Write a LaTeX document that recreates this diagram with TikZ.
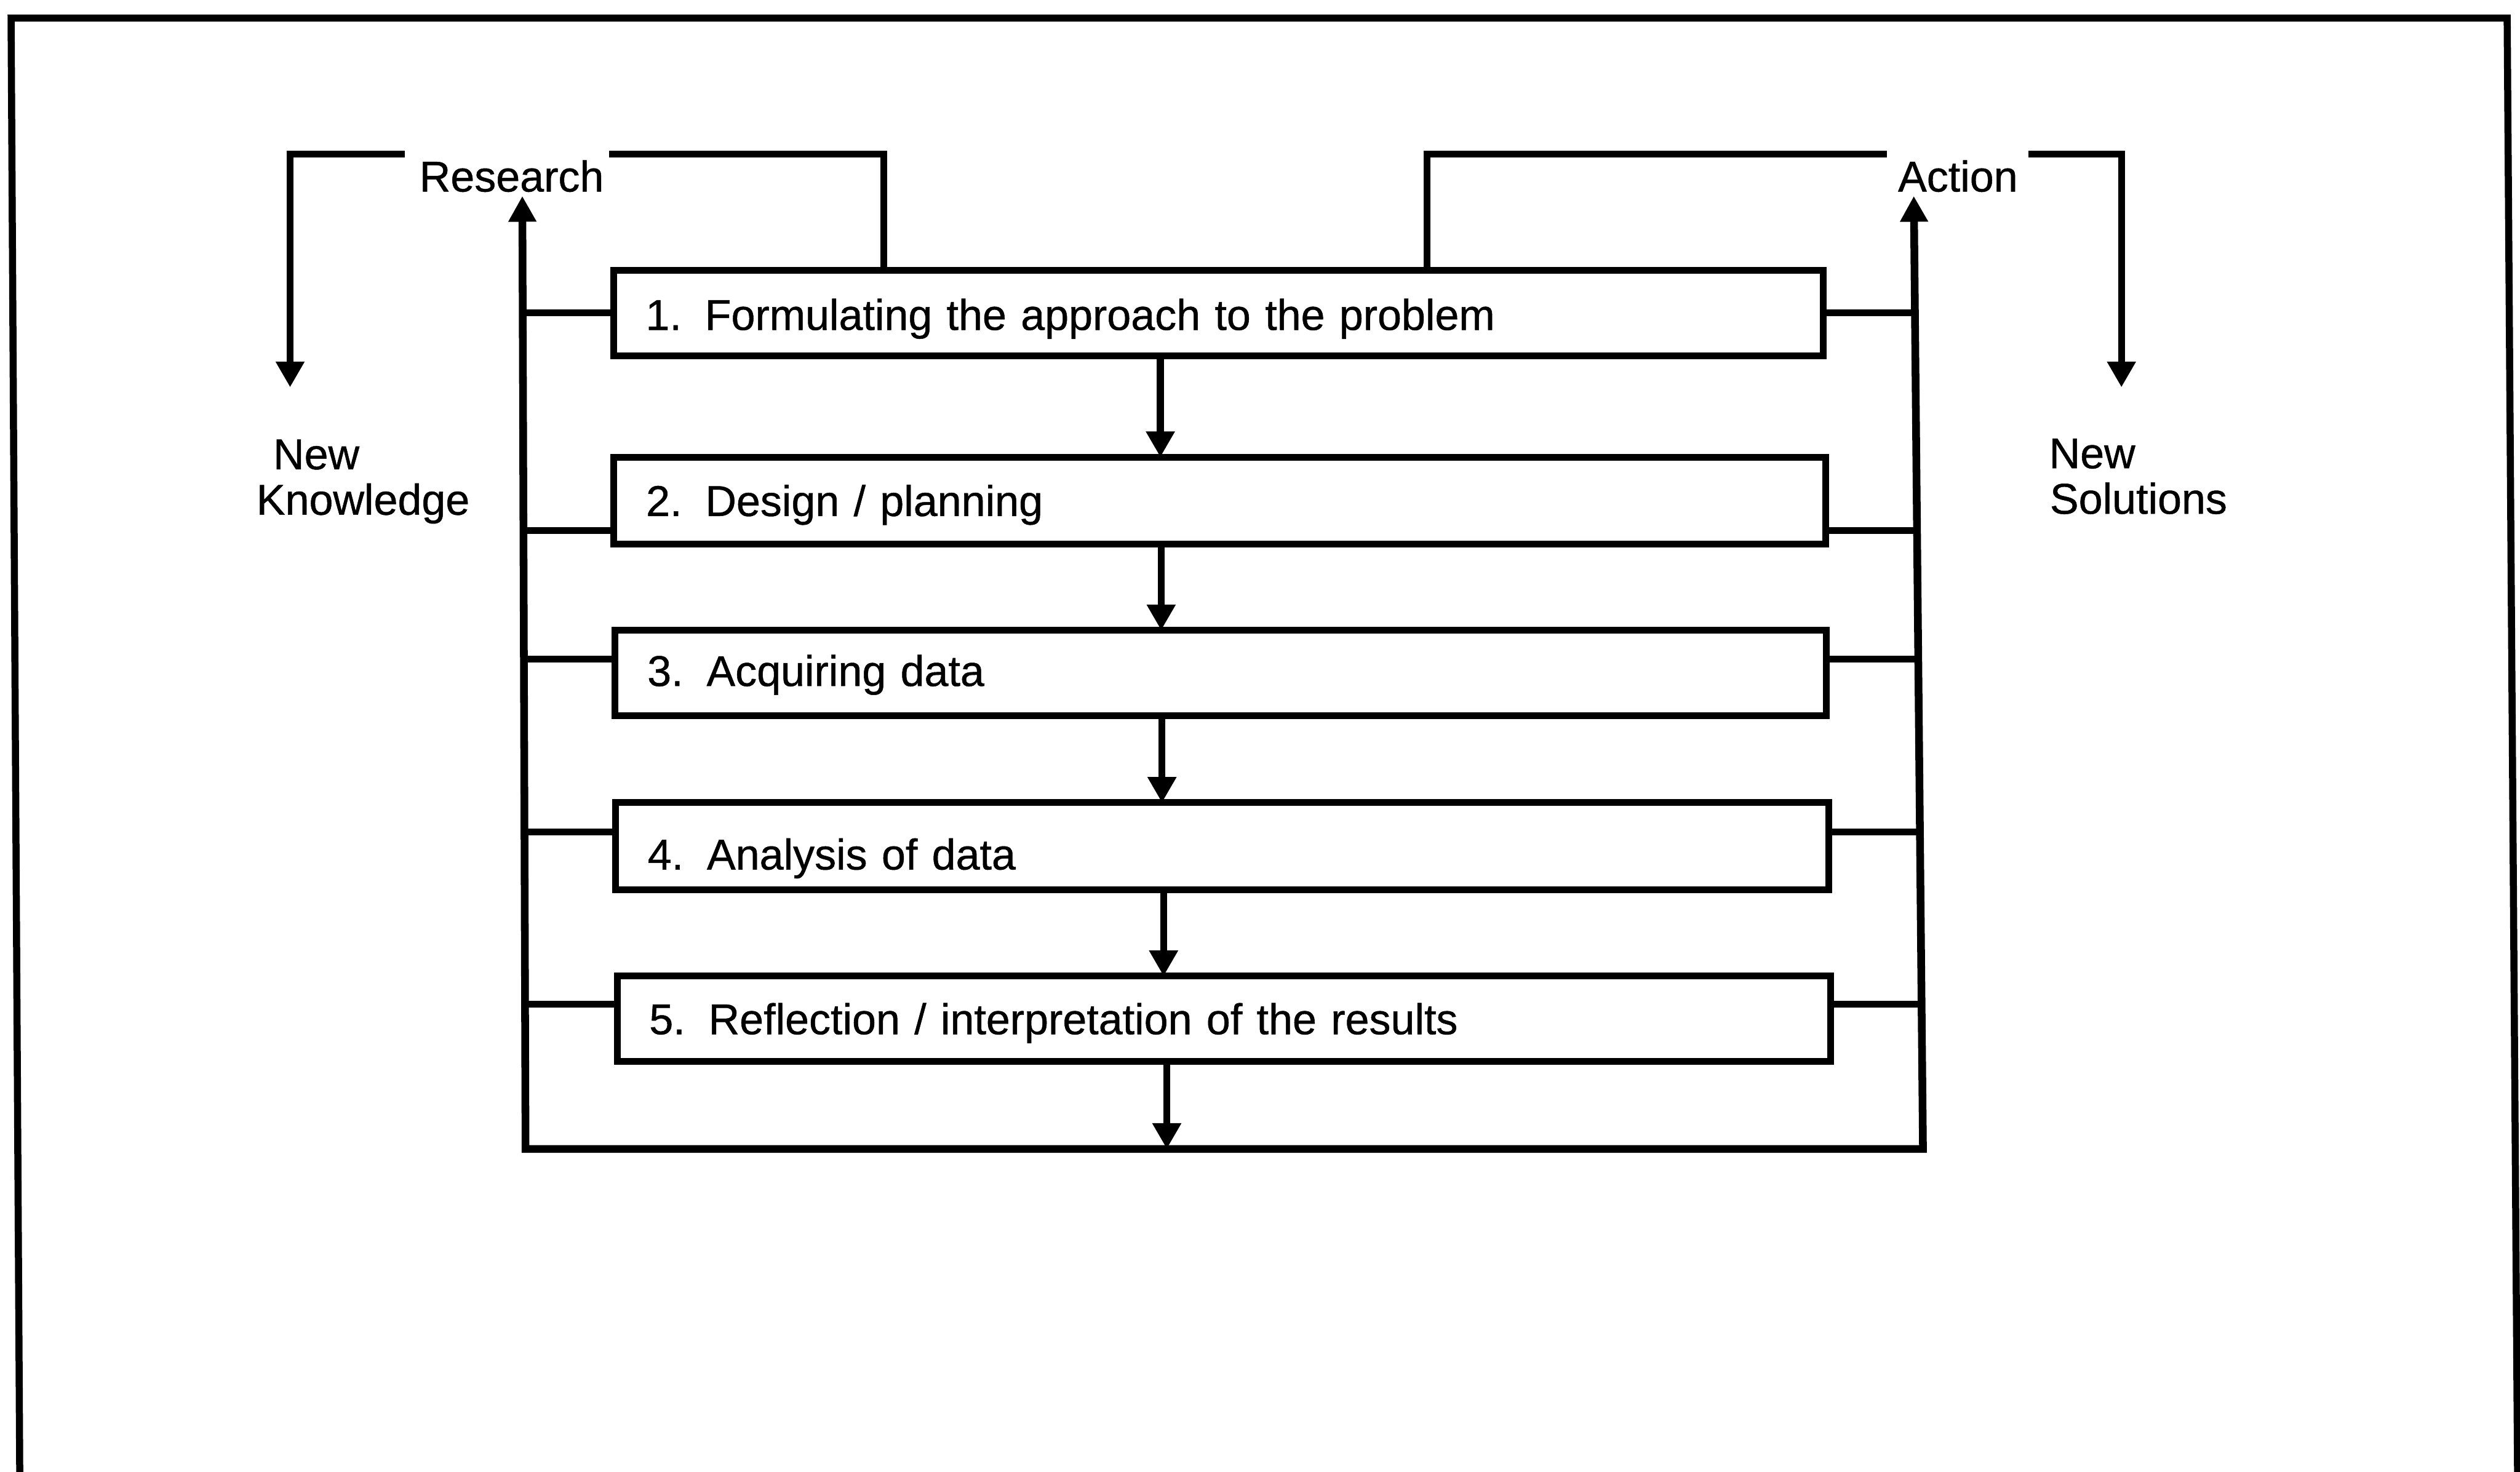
\documentclass[tikz,border=0pt]{standalone}
\usepackage{fontspec}
\setmainfont{Liberation Sans}
\newfontfamily\scanfont{Liberation Sans}[FakeBold=0.7]
\usetikzlibrary{arrows.meta}
\begin{document}
\begin{tikzpicture}[x=1pt,y=-1pt,
  ln/.style={line width=4.2pt},
  rail/.style={line width=4.8pt},
  arr/.style={line width=4.4pt,-{Triangle[length=16pt,width=17pt]}},
  txt/.style={inner sep=0pt,outer sep=0pt,font=\scanfont\fontsize{26.8}{28.5}\selectfont},
  stepbox/.style={draw,line width=4.2pt,inner sep=0pt,outer sep=0pt,align=left,
    text height=19.2pt,text depth=0pt,font=\scanfont\fontsize{26.8}{28.5}\selectfont}]
\useasboundingbox (0,0) rectangle (1568,916);
% frame (open at the bottom)
\draw[line width=4.4pt] (12.3,920) -- (6.9,11.2) -- (1560,11.2) -- (1566.5,920);

% step boxes
\node[stepbox,text width=752.7pt,minimum height=53.2pt,text height=21pt] (b1) at (758.1,194.8)
  {\hspace*{20pt}1.\hspace{14.5pt}Formulating the approach to the problem};
\node[stepbox,text width=754pt,minimum height=54pt] (b2) at (759,311.5)
  {\hspace*{20pt}2.\hspace{14.5pt}Design / planning};
\node[stepbox,text width=753.6pt,minimum height=53.3pt,text height=16pt] (b3) at (759.6,418.9)
  {\hspace*{20pt}3.\hspace{14.5pt}Acquiring data};
\node[stepbox,text width=755pt,minimum height=54.1pt,text height=29pt] (b4) at (760.5,526.6)
  {\hspace*{20pt}4.\hspace{14.5pt}Analysis of data};
\node[stepbox,text width=755pt,minimum height=53pt] (b5) at (761.5,634)
  {\hspace*{20pt}5.\hspace{14.5pt}Reflection / interpretation of the results};

% labels
\node[txt,anchor=base west] (res) at (261,119.2) {Research};
\node[txt,anchor=base west] (act) at (1181,119.2) {Action};
\node[txt,anchor=base west] (nk1) at (170,292) {New};
\node[txt,anchor=base west] (nk2) at (159.6,320.3) {Knowledge};
\node[txt,anchor=base west] (ns1) at (1275,291.4) {New};
\node[txt,anchor=base west] (ns2) at (1275.5,319.7) {Solutions};

% rails
\coordinate (ltop) at (325,122);
\coordinate (lbot) at (327,715);
\coordinate (rtop) at (1190.8,122);
\coordinate (rbot) at (1196.5,715);
\draw[rail,{Triangle[length=16pt,width=16.5pt]}-{Triangle[length=16pt,width=16.5pt]}]
  (ltop) -- (lbot) -- (rbot) -- (rtop);

% stubs
\coordinate (l1) at (325.3,194.8);
\coordinate (l2) at (325.8,330);
\coordinate (l3) at (326.2,410.3);
\coordinate (l4) at (326.5,517.7);
\coordinate (l5) at (326.8,625);
\coordinate (r1) at (1191.5,194.8);
\coordinate (r2) at (1192.8,330);
\coordinate (r3) at (1193.5,410.3);
\coordinate (r4) at (1194.5,517.7);
\coordinate (r5) at (1195.5,625);
\draw[ln] (l1) -- (l1 -| b1.west);
\draw[ln] (l2) -- (l2 -| b2.west);
\draw[ln] (l3) -- (l3 -| b3.west);
\draw[ln] (l4) -- (l4 -| b4.west);
\draw[ln] (l5) -- (l5 -| b5.west);
\draw[ln] (r1) -- (r1 -| b1.east);
\draw[ln] (r2) -- (r2 -| b2.east);
\draw[ln] (r3) -- (r3 -| b3.east);
\draw[ln] (r4) -- (r4 -| b4.east);
\draw[ln] (r5) -- (r5 -| b5.east);

% flow arrows between boxes
\coordinate (m1) at (722,0);
\coordinate (m2) at (722.5,0);
\coordinate (m3) at (723,0);
\coordinate (m4) at (724,0);
\coordinate (m5) at (726,0);
\draw[arr] (m1 |- b1.south) -- (m1 |- b2.north);
\draw[arr] (m2 |- b2.south) -- (m2 |- b3.north);
\draw[arr] (m3 |- b3.south) -- (m3 |- b4.north);
\draw[arr] (m4 |- b4.south) -- (m4 |- b5.north);
\draw[arr] (m5 |- b5.south) -- (m5 |- lbot);

% Research bracket
\coordinate (k1) at (252,96);
\coordinate (k2) at (180.5,96);
\coordinate (k3) at (180.5,241);
\draw[arr,line width=4.2pt] (k1) -- (k2) -- (k3);
\coordinate (k4) at (379,96);
\coordinate (k5) at (550,96);
\draw[ln] (k4) -- (k5) -- (k5 |- b1.north);

% Action bracket
\coordinate (a1) at (1174,96);
\coordinate (a2) at (888,96);
\draw[ln] (a1) -- (a2) -- (a2 |- b1.north);
\coordinate (a3) at (1262,96);
\coordinate (a4) at (1320,96);
\coordinate (a5) at (1320,241);
\draw[arr,line width=4.2pt] (a3) -- (a4) -- (a5);
\end{tikzpicture}
\end{document}
